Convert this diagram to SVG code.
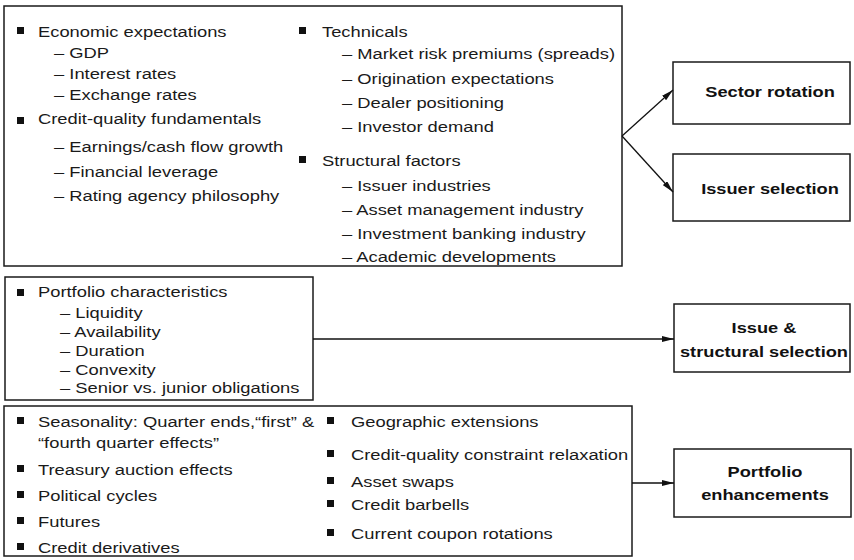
<svg xmlns="http://www.w3.org/2000/svg" width="854" height="560" viewBox="0 0 854 560">
  <defs>
    <style>
      .box { fill: #fff; stroke: #1a1a1a; stroke-width: 1.5; }
      .bul { fill: #111; }
      .t { font-family: "Liberation Sans", Arial, Helvetica, sans-serif; font-size: 15.3px; fill: #1a1a1a; }
      .b { font-family: "Liberation Sans", Arial, Helvetica, sans-serif; font-size: 15.2px; font-weight: bold; fill: #111; text-anchor: middle; }
      .edge { stroke: #111; stroke-width: 1.3; fill: none; marker-end: url(#arrow); }
    </style>
    <marker id="arrow" viewBox="0 0 12 6" refX="12" refY="3" markerWidth="12" markerHeight="6" markerUnits="userSpaceOnUse" orient="auto">
      <path d="M0,0 L12,3 L0,6 Z" fill="#111"/>
    </marker>
  </defs>
  <rect width="854" height="560" fill="#fff"/>

  <!-- Drivers: macro, credit, technical and structural factors -->
  <g id="drivers">
    <rect class="box" x="4" y="6" width="618" height="260"/>
    <rect class="bul" x="17" y="27" width="7" height="7"/>
    <rect class="bul" x="17" y="117" width="7" height="7"/>
    <rect class="bul" x="299" y="27" width="7" height="7"/>
    <rect class="bul" x="299" y="156" width="7" height="7"/>
    <g class="t" transform="scale(1.2 1)">
      <text x="31.67" y="37">Economic expectations</text>
      <text x="45" y="58">– GDP</text>
      <text x="45" y="79">– Interest rates</text>
      <text x="45" y="100">– Exchange rates</text>
      <text x="31.67" y="124">Credit-quality fundamentals</text>
      <text x="45" y="152">– Earnings/cash flow growth</text>
      <text x="45" y="177">– Financial leverage</text>
      <text x="45" y="201">– Rating agency philosophy</text>
      <text x="268.33" y="37">Technicals</text>
      <text x="285" y="59">– Market risk premiums (spreads)</text>
      <text x="285" y="84">– Origination expectations</text>
      <text x="285" y="108">– Dealer positioning</text>
      <text x="285" y="132">– Investor demand</text>
      <text x="268.33" y="166">Structural factors</text>
      <text x="285" y="191">– Issuer industries</text>
      <text x="285" y="215">– Asset management industry</text>
      <text x="285" y="239">– Investment banking industry</text>
      <text x="285" y="262">– Academic developments</text>
    </g>
  </g>

  <!-- Portfolio characteristics -->
  <g id="portfolio-characteristics">
    <rect class="box" x="5" y="277" width="308" height="123"/>
    <rect class="bul" x="17" y="289" width="7" height="7"/>
    <g class="t" transform="scale(1.2 1)">
      <text x="31.67" y="297">Portfolio characteristics</text>
      <text x="50" y="318">– Liquidity</text>
      <text x="50" y="337">– Availability</text>
      <text x="50" y="356">– Duration</text>
      <text x="50" y="375">– Convexity</text>
      <text x="50" y="393">– Senior vs. junior obligations</text>
    </g>
  </g>

  <!-- Enhancement tactics -->
  <g id="tactics">
    <rect class="box" x="4" y="406" width="628" height="150"/>
    <rect class="bul" x="17" y="417" width="7" height="7"/>
    <rect class="bul" x="17" y="465" width="7" height="7"/>
    <rect class="bul" x="17" y="491" width="7" height="7"/>
    <rect class="bul" x="17" y="517" width="7" height="7"/>
    <rect class="bul" x="17" y="543" width="7" height="7"/>
    <rect class="bul" x="327" y="417" width="7" height="7"/>
    <rect class="bul" x="327" y="450" width="7" height="7"/>
    <rect class="bul" x="327" y="477" width="7" height="7"/>
    <rect class="bul" x="327" y="500" width="7" height="7"/>
    <rect class="bul" x="327" y="529" width="7" height="7"/>
    <g class="t" transform="scale(1.2 1)">
      <text x="31.67" y="427">Seasonality: Quarter ends,“first” &amp;</text>
      <text x="31.67" y="448">“fourth quarter effects”</text>
      <text x="31.67" y="475">Treasury auction effects</text>
      <text x="31.67" y="501">Political cycles</text>
      <text x="31.67" y="527">Futures</text>
      <text x="31.67" y="553">Credit derivatives</text>
      <text x="292.5" y="427">Geographic extensions</text>
      <text x="292.5" y="460">Credit-quality constraint relaxation</text>
      <text x="292.5" y="487">Asset swaps</text>
      <text x="292.5" y="510">Credit barbells</text>
      <text x="292.5" y="539">Current coupon rotations</text>
    </g>
  </g>

  <!-- Outcome boxes -->
  <g id="sector-rotation">
    <rect class="box" x="673" y="62" width="177" height="62"/>
    <g class="b" transform="scale(1.2 1)"><text x="641.67" y="97">Sector rotation</text></g>
  </g>
  <g id="issuer-selection">
    <rect class="box" x="673" y="154" width="177" height="67"/>
    <g class="b" transform="scale(1.2 1)"><text x="641.67" y="194">Issuer selection</text></g>
  </g>
  <g id="issue-structural-selection">
    <rect class="box" x="674" y="304" width="176" height="68"/>
    <g class="b" transform="scale(1.2 1)">
      <text x="636.67" y="333">Issue &amp;</text>
      <text x="636.67" y="357">structural selection</text>
    </g>
  </g>
  <g id="portfolio-enhancements">
    <rect class="box" x="674" y="449" width="177" height="68"/>
    <g class="b" transform="scale(1.2 1)">
      <text x="637.5" y="477">Portfolio</text>
      <text x="637.5" y="500">enhancements</text>
    </g>
  </g>

  <!-- Connectors -->
  <g id="connectors">
    <line class="edge" x1="622" y1="136" x2="673" y2="90"/>
    <line class="edge" x1="622" y1="136" x2="673" y2="192"/>
    <line class="edge" x1="313" y1="339" x2="674" y2="339"/>
    <line class="edge" x1="632" y1="483" x2="674" y2="483"/>
  </g>
</svg>
